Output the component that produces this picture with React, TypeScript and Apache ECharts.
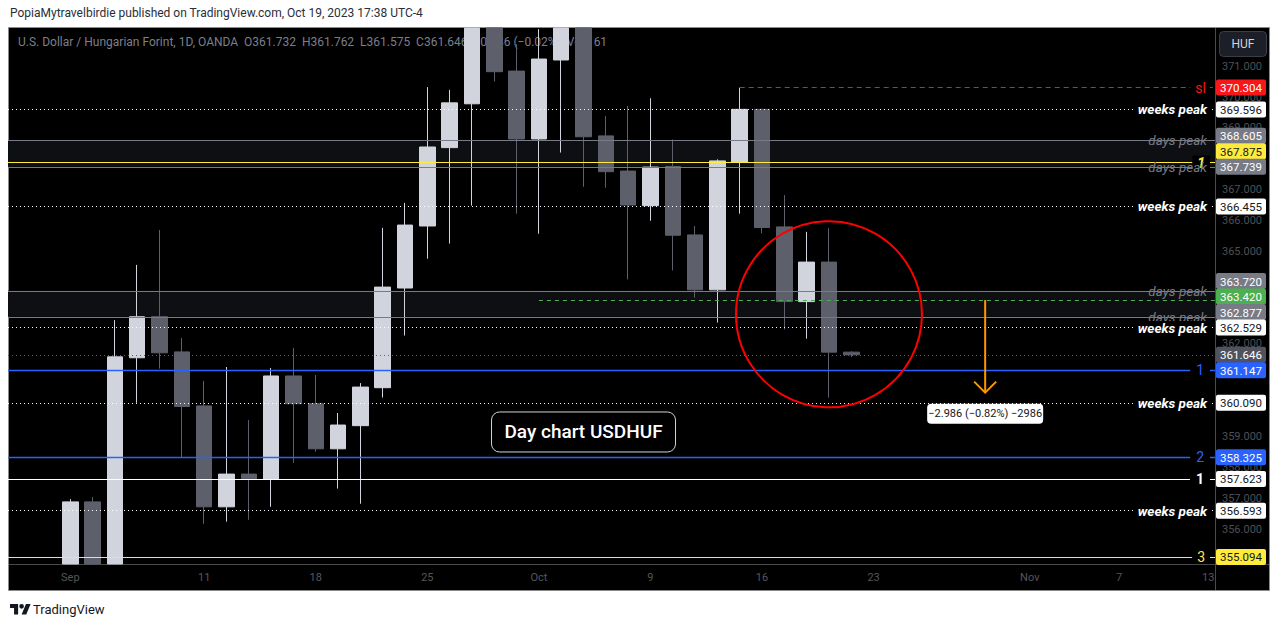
import React, { useEffect, useRef } from 'react';
import * as echarts from 'echarts';

// ---------- data ----------
// trading days Sep 1 .. Oct 20, 2023 (index = bar position)
const dates = [
  'Sep 1', 'Sep 4', 'Sep 5', 'Sep 6', 'Sep 7', 'Sep 8',
  'Sep 11', 'Sep 12', 'Sep 13', 'Sep 14', 'Sep 15',
  'Sep 18', 'Sep 19', 'Sep 20', 'Sep 21', 'Sep 22',
  'Sep 25', 'Sep 26', 'Sep 27', 'Sep 28', 'Sep 29',
  'Oct 2', 'Oct 3', 'Oct 4', 'Oct 5', 'Oct 6',
  'Oct 9', 'Oct 10', 'Oct 11', 'Oct 12', 'Oct 13',
  'Oct 16', 'Oct 17', 'Oct 18', 'Oct 19', 'Oct 20',
];
const opens = [
  353.6, 356.88, 354.4, 361.55, 362.88, 361.74,
  359.99, 356.72, 357.78, 357.62, 360.96,
  360.06, 358.6, 359.35, 360.58, 363.81,
  365.82, 368.36, 369.78, 372.9, 370.84,
  368.64, 371.2, 373.6, 368.74, 367.6,
  366.48, 367.75, 365.53, 363.75, 367.89,
  369.6, 365.79, 363.37, 364.65, 361.732,
];
const highs = [
  356.97, 357.04, 362.77, 364.56, 365.69, 362.19,
  360.8, 361.25, 359.53, 361.22, 361.87,
  360.99, 359.76, 360.73, 365.76, 366.57,
  370.32, 370.23, 373.3, 373.5, 371.71,
  372.2, 374.2, 374.0, 369.38, 369.71,
  369.96, 368.62, 365.82, 367.98, 370.3,
  369.62, 366.82, 365.63, 365.75, 361.762,
];
const lows = [
  353.3, 354.0, 354.1, 360.09, 361.2, 358.31,
  356.17, 356.24, 356.3, 356.72, 358.15,
  358.51, 357.31, 356.82, 360.26, 362.27,
  364.76, 365.25, 366.48, 370.5, 366.22,
  365.57, 368.2, 367.09, 367.06, 364.09,
  365.99, 364.38, 363.5, 362.69, 366.22,
  365.58, 362.47, 362.17, 360.26, 361.575,
];
const closes = [
  356.88, 354.4, 361.58, 362.88, 361.71, 359.97,
  356.72, 357.78, 357.63, 360.96, 360.06,
  358.6, 359.37, 360.6, 363.84, 365.85,
  368.38, 369.81, 372.9, 370.82, 368.64,
  371.23, 373.6, 368.71, 367.58, 366.5,
  367.73, 365.52, 363.75, 367.93, 369.6,
  365.77, 363.37, 364.65, 361.732, 361.646,
];

// time axis ticks (bar index -> label)
const tickIndex = [0, 6, 11, 16, 21, 26, 31, 36, 43, 47, 51];
const tickText = ['Sep', '11', '18', '25', 'Oct', '9', '16', '23', 'Nov', '7', '13'];
// price axis tick labels that are visible on the price scale
const priceTicks = [356, 357, 358, 359, 362, 365, 366, 367, 369, 370, 371];

// horizontal levels
const levelPrices = [370.304, 369.596, 368.605, 367.875, 367.739, 366.455, 363.72, 363.42, 362.877, 362.529, 361.646, 361.147, 360.09, 358.325, 357.623, 356.593, 355.094];
const levelTags = ['sl', 'weeks peak', 'days peak', '1', 'days peak', 'weeks peak', 'days peak', '', 'days peak', 'weeks peak', '', '1', 'weeks peak', '2', '1', 'weeks peak', '3'];
const levelKinds = ['sl', 'weeks', 'days', 'yellow', 'days', 'weeks', 'days', 'green', 'days', 'weeks', 'current', 'blue', 'weeks', 'blue', 'white', 'weeks', 'yellow3'];
const levelStarts: (number | null)[] = [30, null, null, null, null, null, null, 21, null, null, null, null, null, null, null, null, null];
// "days peak" zones
const bandRanges = [[368.605, 367.739], [363.72, 362.877]];

// annotations (data space)
const circleCenter = [34, 362.96];
const arrowFrom = [41, 363.42];
const arrowTo = [41, 360.42];
const noteAnchor = [23, 359.145];
const measureText = '\u22122.986 (\u22120.82%) \u22122986';
const noteText = 'Day chart USDHUF';

// ---------- styles ----------
const FONT = 'Roboto, "Noto Sans", sans-serif';
const UP = '#d1d4dc';
const DOWN = '#5d606b';
const X_MIN = -2.792;
const X_MAX = 51.3;
const Y_MIN = 354.867;
const Y_MAX = 372.236;

const KIND: Record<string, any> = {
  sl: { line: { color: '#f7161a', type: [5, 4], width: 1 }, tag: { color: '#f7161a', size: 14, style: 'normal', weight: 'normal', bg: '#000000', padding: [0, 4, 0, 5], distance: 5, lh: 15 }, box: '#f7161a', boxText: '#ffffff' },
  weeks: { line: { color: '#ffffff', type: [1, 3], width: 1 }, tag: { color: '#ffffff', size: 13.5, style: 'italic', weight: 'bold', bg: '#000000', padding: [0, 3, 0, 4], distance: 5, lh: 13 }, box: '#ffffff', boxText: '#131722' },
  days: { line: { color: '#787b86', type: 'solid', width: 1 }, tag: { color: '#787b86', size: 13.5, style: 'italic', weight: 'normal', bg: 'transparent', padding: 0, distance: 8, lh: 15 }, box: '#787b86', boxText: '#ffffff' },
  yellow: { line: { color: '#ffeb3b', type: 'solid', width: 1.2 }, tag: { color: '#ffeb3b', size: 14, style: 'italic', weight: 'bold', bg: '#000000', padding: [0, 5], distance: 5, lh: 14 }, box: '#ffeb3b', boxText: '#131722' },
  yellow3: { line: { color: '#ffeb3b', type: 'solid', width: 1.2 }, tag: { color: '#ffeb3b', size: 14, style: 'normal', weight: 'normal', bg: '#000000', padding: [0, 5], distance: 5, lh: 14 }, box: '#ffeb3b', boxText: '#131722' },
  green: { line: { color: '#4caf50', type: [4, 4], width: 1.2 }, tag: null, box: '#4caf50', boxText: '#ffffff' },
  current: { line: { color: '#5d606b', type: [1, 3], width: 1 }, tag: null, box: '#50535e', boxText: '#ffffff' },
  blue: { line: { color: '#2962ff', type: 'solid', width: 1.3 }, tag: { color: '#2962ff', size: 14, style: 'normal', weight: 'normal', bg: '#000000', padding: [0, 6], distance: 5, lh: 15 }, box: '#2962ff', boxText: '#ffffff' },
  white: { line: { color: '#ffffff', type: 'solid', width: 1.2 }, tag: { color: '#ffffff', size: 14, style: 'normal', weight: 'bold', bg: '#000000', padding: [0, 6], distance: 5, lh: 15 }, box: '#ffffff', boxText: '#131722' },
};

const LOGO_D = 'M14 22H7V11H0V4h14v18zM28 22h-8l7.5-18h8L28 22zM24 8a4 4 0 1 1-8 0a4 4 0 1 1 8 0z';

const clampY = (v: number) => Math.min(Math.max(v, Y_MIN), Y_MAX);

export default function App() {
  const ref = useRef<HTMLDivElement>(null);

  useEffect(() => {
    const el = ref.current;
    if (!el) return;
    let logoOk = true;
    try {
      echarts.graphic.registerShape('tvlogo2', (echarts.graphic as any).extendPath(LOGO_D, {}));
    } catch (e) {
      logoOk = false;
    }

    const chart = echarts.init(el, null, { renderer: 'svg' });

    // candles are cut at the edges of the plot, as on the price scale
    const candleData = opens.map((o, i) => [i, clampY(o), clampY(closes[i]), clampY(lows[i]), clampY(highs[i])]);

    const mlData = levelPrices.map((p, k) => {
      const s = KIND[levelKinds[k]];
      const start = levelStarts[k] == null ? X_MIN : (levelStarts[k] as number);
      const tag = levelTags[k];
      const label = tag && s.tag
        ? {
            show: true,
            position: 'insideEnd',
            distance: s.tag.distance,
            formatter: tag,
            color: s.tag.color,
            fontSize: s.tag.size,
            fontStyle: s.tag.style,
            fontWeight: s.tag.weight,
            fontFamily: FONT,
            backgroundColor: s.tag.bg,
            padding: s.tag.padding,
            lineHeight: s.tag.lh,
          }
        : { show: false };
      return [
        { coord: [start, p], lineStyle: s.line, label },
        { coord: [X_MAX, p] },
      ];
    });

    const option: any = {
      animation: false,
      backgroundColor: '#ffffff',
      grid: { left: 8, top: 28, width: 1207, height: 536, containLabel: false },
      xAxis: {
        type: 'value',
        min: X_MIN,
        max: X_MAX,
        z: 1,
        axisLine: { show: false },
        axisTick: { show: false },
        splitLine: { show: false },
        axisLabel: {
          customValues: tickIndex,
          formatter: (v: number) => {
            const k = tickIndex.indexOf(Math.round(v));
            return k >= 0 ? tickText[k] : '';
          },
          color: '#55575d',
          fontSize: 11,
          fontFamily: FONT,
          margin: 8,
        },
      },
      yAxis: {
        type: 'value',
        position: 'right',
        min: Y_MIN,
        max: Y_MAX,
        z: 1,
        axisLine: { show: false },
        axisTick: { show: false },
        splitLine: { show: false },
        axisLabel: {
          customValues: priceTicks,
          formatter: (v: number) => v.toFixed(3),
          color: '#4e5055',
          fontSize: 11,
          fontFamily: FONT,
          margin: 7,
        },
      },
      series: [
        {
          type: 'candlestick',
          data: candleData,
          encode: { x: 0, y: [1, 2, 3, 4] },
          barWidth: 16,
          clip: true,
          z: 2,
          itemStyle: { color: UP, color0: DOWN, borderColor: UP, borderColor0: DOWN, borderWidth: 1 },
          markArea: {
            silent: true,
            itemStyle: { color: '#0e0f13' },
            label: { show: false },
            data: bandRanges.map(([a, b]) => [{ yAxis: a }, { yAxis: b }]),
          },
          markLine: {
            silent: true,
            animation: false,
            symbol: ['none', 'none'],
            label: { show: false },
            data: mlData,
          },
        },
      ],
    };

    chart.setOption(option);

    const toPx = (x: number, y: number) => chart.convertToPixel({ seriesIndex: 0 }, [x, y]) as number[];

    // price boxes on the price scale, stacked to avoid overlaps
    const ys = levelPrices.map((p) => toPx(0, p)[1]);
    const order = levelPrices.map((_, k) => k).sort((a, b) => levelPrices[a] - levelPrices[b]);
    const boxY: number[] = new Array(levelPrices.length).fill(0);
    let prev = Infinity;
    order.forEach((k) => {
      const ly = Math.min(ys[k], prev - 15.5);
      boxY[k] = ly;
      prev = ly;
    });

    const g: any[] = [];
    // chart frame
    g.push({ type: 'rect', silent: true, z: -1, shape: { x: 8.5, y: 27.5, width: 1261, height: 563 }, style: { fill: '#000000', stroke: '#8a8a8a', lineWidth: 1 } });
    g.push({ type: 'line', silent: true, z: 1, shape: { x1: 1215.5, y1: 28, x2: 1215.5, y2: 590 }, style: { stroke: '#4a4a4a', lineWidth: 1 } });
    g.push({ type: 'line', silent: true, z: 1, shape: { x1: 9, y1: 564.5, x2: 1269, y2: 564.5 }, style: { stroke: '#4a4a4a', lineWidth: 1 } });
    // header & legend
    g.push({ type: 'text', silent: true, z: 1, x: 10, y: 13, style: { text: 'PopiaMytravelbirdie published on TradingView.com, Oct 19, 2023 17:38 UTC-4', fill: '#2a2e39', fontSize: 12, fontFamily: FONT, verticalAlign: 'middle', align: 'left' } });
    g.push({ type: 'text', silent: true, z: 1, x: 18, y: 42, style: { text: 'U.S. Dollar / Hungarian Forint, 1D, OANDA  O361.732  H361.762  L361.575  C361.646  \u22120.086 (\u22120.02%)  Vol 161', fill: '#7c7f89', fontSize: 12, fontFamily: FONT, verticalAlign: 'middle', align: 'left' } });
    // currency button
    g.push({ type: 'rect', silent: true, z: 6, shape: { x: 1219.5, y: 31.5, width: 47, height: 25, r: 4 }, style: { fill: '#1c1f27', stroke: '#3b3e46', lineWidth: 1 } });
    g.push({ type: 'text', silent: true, z: 7, x: 1243, y: 44, style: { text: 'HUF', fill: '#d1d4dc', fontSize: 12, fontFamily: FONT, align: 'center', verticalAlign: 'middle' } });
    // footer
    if (logoOk) {
      g.push({ type: 'tvlogo2', silent: true, z: 1, x: 10, y: 601.7, scaleX: 0.58, scaleY: 0.58, style: { fill: '#131722' } });
    }
    g.push({ type: 'text', silent: true, z: 1, x: 33, y: 609, style: { text: 'TradingView', fill: '#131722', fontSize: 13, fontFamily: FONT, verticalAlign: 'middle', align: 'left' } });

    // price boxes
    levelPrices.forEach((p, k) => {
      const s = KIND[levelKinds[k]];
      g.push({ type: 'rect', silent: true, z: 6, shape: { x: 1216, y: boxY[k] - 8, width: 50, height: 16, r: 2 }, style: { fill: s.box } });
      g.push({ type: 'text', silent: true, z: 7, x: 1241, y: boxY[k] + 0.5, style: { text: p.toFixed(3), fill: s.boxText, fontSize: 11.5, fontFamily: FONT, align: 'center', verticalAlign: 'middle' } });
    });

    // red circle
    const c = toPx(circleCenter[0], circleCenter[1]);
    g.push({ type: 'circle', silent: true, z: 10, shape: { cx: c[0], cy: c[1], r: 93 }, style: { fill: 'none', stroke: '#ff0000', lineWidth: 2 } });
    // orange arrow
    const a0 = toPx(arrowFrom[0], arrowFrom[1]);
    const a1 = toPx(arrowTo[0], arrowTo[1]);
    g.push({ type: 'line', silent: true, z: 10, shape: { x1: a0[0], y1: a0[1], x2: a1[0], y2: a1[1] }, style: { stroke: '#ff9800', lineWidth: 2 } });
    g.push({ type: 'polyline', silent: true, z: 10, shape: { points: [[a1[0] - 11, a1[1] - 11], [a1[0], a1[1]], [a1[0] + 11, a1[1] - 11]] }, style: { stroke: '#ff9800', lineWidth: 2, fill: 'none' } });
    // measurement label
    g.push({ type: 'rect', silent: true, z: 10, shape: { x: a1[0] - 58, y: a1[1] + 11, width: 116, height: 20, r: 4 }, style: { fill: '#ffffff' } });
    g.push({ type: 'text', silent: true, z: 11, x: a1[0], y: a1[1] + 21, style: { text: measureText, fill: '#131722', fontSize: 11, fontFamily: FONT, align: 'center', verticalAlign: 'middle' } });
    // note box
    const n = toPx(noteAnchor[0], noteAnchor[1]);
    g.push({ type: 'rect', silent: true, z: 10, shape: { x: n[0] - 92, y: n[1] - 20, width: 184, height: 40, r: 8 }, style: { fill: '#000000', stroke: '#d1d4dc', lineWidth: 1 } });
    g.push({ type: 'text', silent: true, z: 11, x: n[0], y: n[1], style: { text: noteText, fill: '#ffffff', fontSize: 19, fontWeight: 500, fontFamily: FONT, align: 'center', verticalAlign: 'middle' } });

    chart.setOption({ graphic: [{ elements: g }] });

    return () => {
      chart.dispose();
    };
  }, []);

  return (
    <div
      ref={ref}
      style={{ position: 'fixed', left: 0, top: 0, width: 1281, height: 627, background: '#ffffff' }}
      data-dates={dates.length}
    />
  );
}
